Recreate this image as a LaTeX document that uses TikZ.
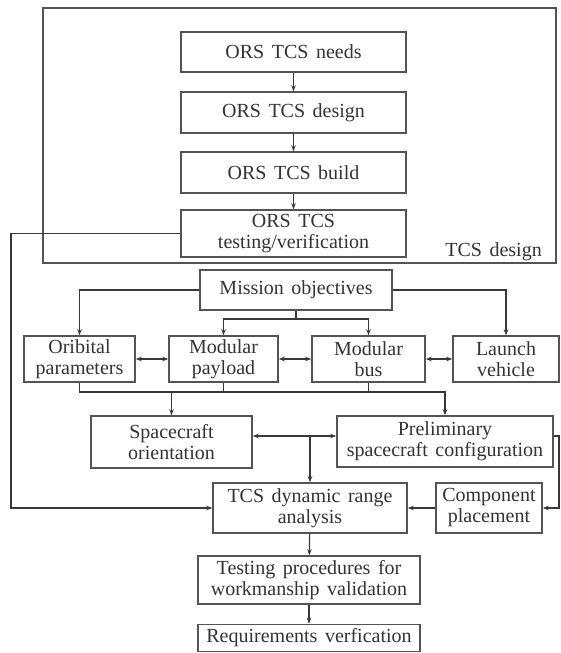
\documentclass[tikz,border=0pt]{standalone}
\usepackage{fontspec}
\setmainfont{Liberation Serif}[WordSpace=1.5]
\usetikzlibrary{arrows.meta}
\definecolor{boxgray}{gray}{0.33}
\definecolor{linegray}{gray}{0.22}
\definecolor{textgray}{gray}{0.2}
\tikzset{
  box/.style={draw=boxgray, line width=1.5pt, inner sep=0pt, align=center,
    text=textgray, font=\fontsize{20}{21}\selectfont},
  arr/.style={-{Stealth[length=6pt,width=4.5pt]}, line width=1.2pt, draw=linegray},
  darr/.style={{Stealth[length=6pt,width=4.5pt]}-{Stealth[length=6pt,width=4.5pt]}, line width=1.2pt, draw=linegray},
  plain/.style={line width=1.2pt, draw=linegray}
}
\begin{document}
\begin{tikzpicture}[x=1pt,y=-1pt]
\useasboundingbox (0,0) rectangle (561,653);
% outer frame
\node[draw=boxgray, line width=1.5pt, minimum width=513pt, minimum height=255pt, inner sep=0pt] (frame) at (299.5,135.5) {};
\node[anchor=base east, inner sep=0pt, text=textgray, font=\fontsize{20}{21}\selectfont] (framelbl) at (542,256) {TCS design};
% top chain
\node[box, minimum width=225pt, minimum height=40pt] (needs) at (293.5,52) {ORS TCS needs};
\node[box, minimum width=225pt, minimum height=41pt] (design) at (293.5,112.5) {ORS TCS design};
\node[box, minimum width=225pt, minimum height=41pt] (build) at (293.5,172.5) {ORS TCS build};
\node[box, minimum width=225pt, minimum height=47pt] (testing) at (293.5,233.5) {ORS TCS\\testing/verification};
% middle
\node[box, minimum width=192pt, minimum height=40pt] (mission) at (296,290) {Mission objectives};
\node[box, minimum width=111pt, minimum height=46pt] (orbital) at (79.5,359) {Oribital\\parameters};
\node[box, minimum width=109pt, minimum height=46pt] (payload) at (223.5,359) {Modular\\payload};
\node[box, minimum width=113pt, minimum height=46pt] (bus) at (368.5,359) {Modular\\bus};
\node[box, minimum width=106pt, minimum height=46pt] (launch) at (506,359) {Launch\\vehicle};
\node[box, minimum width=161pt, minimum height=52pt] (orient) at (171.5,442) {Spacecraft\\orientation};
\node[box, minimum width=216pt, minimum height=51pt] (prelim) at (445,441.5) {Preliminary\\spacecraft configuration};
\node[box, minimum width=194pt, minimum height=50pt] (dyn) at (310,508) {TCS dynamic range\\analysis};
\node[box, minimum width=106pt, minimum height=50pt] (comp) at (489,508) {Component\\placement};
\node[box, minimum width=222pt, minimum height=48pt] (proc) at (309,580) {Testing procedures for\\workmanship validation};
\node[box, minimum width=222pt, minimum height=27pt] (req) at (309,638) {Requirements verfication};
% helper coordinates
\coordinate (lft) at (11,232);
\coordinate (mj) at (296,319);
\coordinate (bbus) at (0,392);
\coordinate (oy) at (0,436);
\coordinate (rgt) at (559,436);
% top chain arrows
\draw[arr] (needs) -- (design);
\draw[arr] (design) -- (build);
\draw[arr] (build) -- (testing);
\draw[arr] (testing.west) -- (testing.west -| lft) |- (dyn.west);
% mission
\draw[arr] (mission.west) -| (orbital.north);
\draw[arr] (mission.east) -| (launch.north);
\draw[plain] (mission.south) -- (mj);
\draw[arr] (mj) -| (payload.north);
\draw[arr] (mj) -| (bus.north);
% double arrows
\draw[darr] (orbital.east) -- (payload.west);
\draw[darr] (payload.east) -- (bus.west);
\draw[darr] (bus.east) -- (launch.west);
% bottom bus
\draw[arr] (orbital.south) -- (orbital.south |- bbus) -- (bbus -| prelim.north) -- (prelim.north);
\draw[plain] (payload.south) -- (payload.south |- bbus);
\draw[plain] (bus.south) -- (bus.south |- bbus);
\draw[arr] (bbus -| orient.north) -- (orient.north);
% orientation / preliminary
\draw[darr] (orient.east |- oy) -- (prelim.west |- oy);
\draw[arr] (dyn.north |- oy) -- (dyn.north);
\draw[arr] (prelim.east |- rgt) -- (rgt) |- (comp.east);
\draw[arr] (comp.west) -- (dyn.east);
\draw[arr] (dyn) -- (proc);
\draw[arr] (proc) -- (req);
\end{tikzpicture}
\end{document}
